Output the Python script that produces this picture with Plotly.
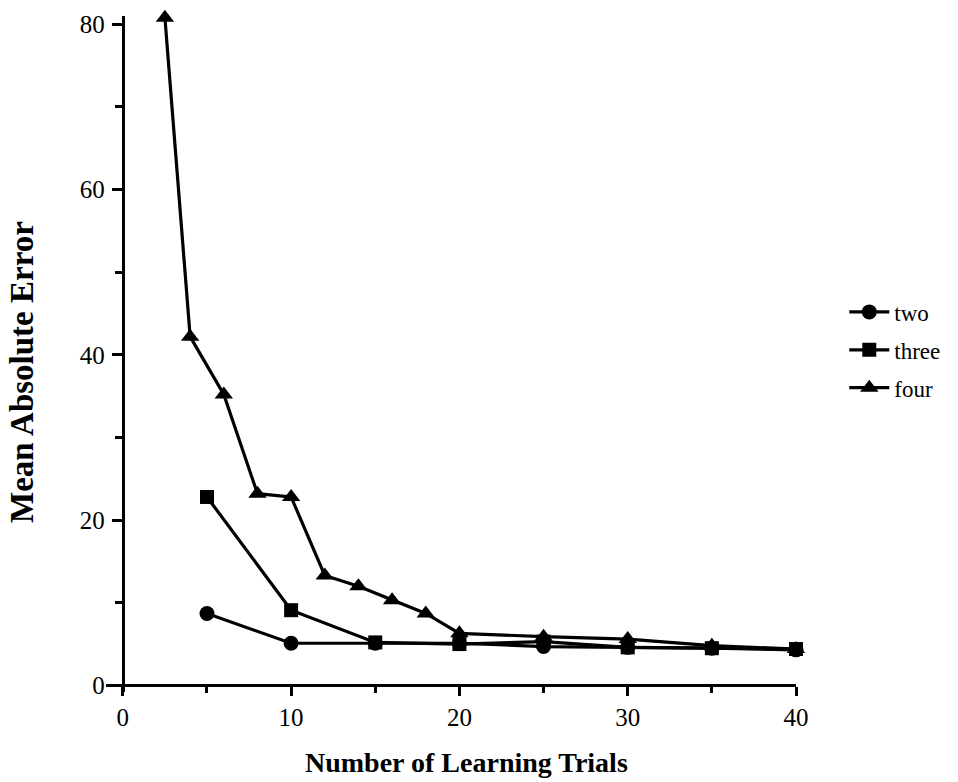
import plotly.graph_objects as go

# ---- data ----
trials_two = [5, 10, 15, 20, 25, 30, 35, 40]
err_two = [8.7, 5.1, 5.1, 5.1, 4.7, 4.6, 4.5, 4.3]

trials_three = [5, 10, 15, 20, 25, 30, 35, 40]
err_three = [22.8, 9.1, 5.2, 5.0, 5.3, 4.6, 4.5, 4.4]

trials_four = [2.5, 4, 6, 8, 10, 12, 14, 16, 18, 20, 25, 30, 35, 40]
err_four = [80.8, 42.2, 35.2, 23.2, 22.8, 13.3, 12.0, 10.3, 8.7, 6.3, 5.9, 5.6, 4.8, 4.4]

series_names = ["two", "three", "four"]
x_ticks = [0, 10, 20, 30, 40]
y_ticks = [0, 20, 40, 60, 80]
x_title = "Number of Learning Trials"
y_title = "Mean Absolute Error"

XMIN, XMAX = -1.0, 40.0
YMIN, YMAX = -0.8, 81.0

FONT = "Liberation Serif"

fig = go.Figure()
specs = [
    (trials_two, err_two, "circle", 15),
    (trials_three, err_three, "square", 14),
    (trials_four, err_four, "triangle-up", 16),
]
for name, (xs, ys, sym, sz) in zip(series_names, specs):
    fig.add_trace(go.Scatter(
        x=xs, y=ys, name=name, mode="lines+markers",
        line=dict(color="black", width=3.2),
        marker=dict(symbol=sym, size=sz, color="black"),
        cliponaxis=False, legendgroup=name,
    ))

fig.update_layout(
    width=958, height=782,
    margin=dict(l=106, r=162, t=16, b=90),
    paper_bgcolor="white", plot_bgcolor="white",
    font=dict(family=FONT, color="black", size=24),
    showlegend=True,
    legend=dict(
        x=1.07, y=0.506, xanchor="left", yanchor="middle",
        font=dict(family=FONT, size=23, color="black"),
        tracegroupgap=5, itemwidth=40, bgcolor="rgba(0,0,0,0)",
    ),
    xaxis=dict(
        range=[XMIN, XMAX], domain=[0, 1],
        anchor="free", position=(0 - YMIN) / (YMAX - YMIN),
        tickvals=x_ticks, ticks="outside", ticklen=9, tickwidth=2.5,
        tickcolor="black", showline=True, linecolor="black", linewidth=3,
        showgrid=False, zeroline=False,
        tickfont=dict(family=FONT, size=25),
        minor=dict(dtick=5, tick0=0, ticks="outside", ticklen=6, tickwidth=2.5,
                   tickcolor="black", showgrid=False),
    ),
    yaxis=dict(
        range=[YMIN, YMAX], domain=[0, 1],
        anchor="free", position=(0 - XMIN) / (XMAX - XMIN),
        tickvals=y_ticks, ticks="outside", ticklen=10, tickwidth=2.5,
        tickcolor="black", showline=True, linecolor="black", linewidth=3,
        showgrid=False, zeroline=False,
        tickfont=dict(family=FONT, size=25),
        ticklabelstandoff=2,
        minor=dict(dtick=10, tick0=0, ticks="outside", ticklen=7, tickwidth=2.5,
                   tickcolor="black", showgrid=False),
    ),
    annotations=[
        dict(text="<b>" + x_title + "</b>", xref="paper", yref="paper",
             x=(466 - 106) / 690, y=-(762 - 692) / 676,
             xanchor="center", yanchor="middle", showarrow=False,
             font=dict(family=FONT, size=28, color="black")),
        dict(text="<b>" + y_title + "</b>", xref="paper", yref="paper",
             x=-(106 - 22) / 690, y=(692 - 372) / 676,
             xanchor="center", yanchor="middle", showarrow=False, textangle=-90,
             font=dict(family=FONT, size=33, color="black")),
    ],
)

fig.write_html("out.html")
